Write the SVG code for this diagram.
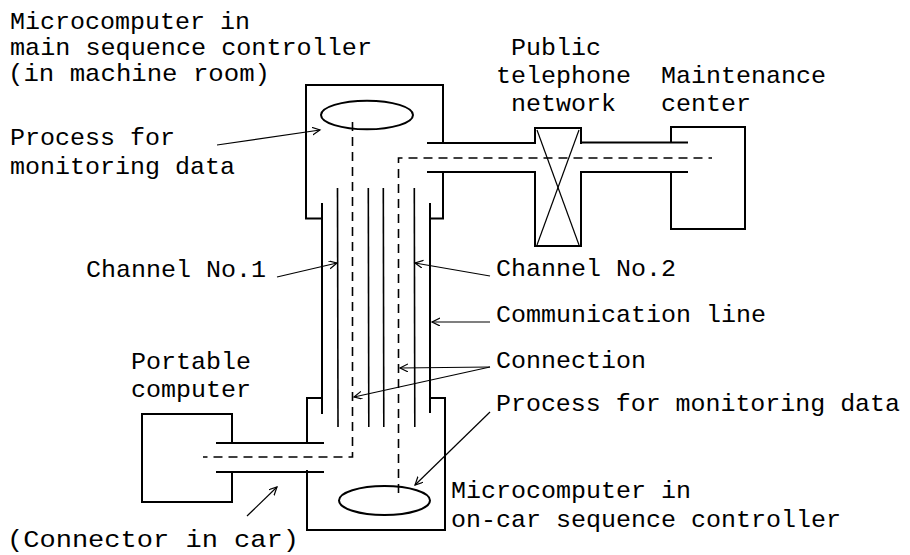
<svg xmlns="http://www.w3.org/2000/svg" width="910" height="555" viewBox="0 0 910 555">
<defs>
<marker id="ah" markerUnits="userSpaceOnUse" markerWidth="12" markerHeight="12" refX="8" refY="4" orient="auto">
<path d="M0,0 L8,4 L0,8" fill="none" stroke="#000" stroke-width="1.2"/>
</marker>
<style>
.b{fill:none;stroke:#000;stroke-width:2;stroke-linecap:square}
.c{fill:none;stroke:#000;stroke-width:1.6}
.d{fill:none;stroke:#000;stroke-width:1.6;stroke-dasharray:9 6}
.a{fill:none;stroke:#000;stroke-width:1.2;marker-end:url(#ah)}
.x{fill:none;stroke:#000;stroke-width:1.2}
text{font-family:"Liberation Mono","Courier New",monospace;font-size:24px;fill:#000}
</style>
</defs>
<rect width="910" height="555" fill="#fff"/>

<g id="main-controller">
<path class="b" d="M322,218.5 H306 V85 H443 V143 M443,173 V218.5 H430"/>
<ellipse class="b" cx="367" cy="115" rx="46" ry="14.3"/>
</g>

<g id="onboard-controller">
<path class="b" d="M322,398 H307 V442 M307,471 V530 H445 V398 H430"/>
<ellipse class="b" cx="384.5" cy="500.5" rx="45.5" ry="14.5"/>
</g>

<g id="shaft">
<line class="b" x1="322" y1="204" x2="322" y2="413"/>
<line class="b" x1="430" y1="204" x2="430" y2="412"/>
<line class="c" x1="337.5" y1="188" x2="338" y2="427"/>
<line class="c" x1="368.3" y1="188" x2="368.8" y2="427"/>
<line class="c" x1="383.3" y1="188" x2="383.8" y2="427"/>
<line class="c" x1="414.3" y1="188" x2="414.8" y2="427"/>
</g>

<g id="telephone-network">
<path class="b" d="M535,143 V128 H581 V143 M535,172 V246 H581 V172"/>
<line class="x" x1="537" y1="130" x2="579" y2="245"/>
<line class="x" x1="579" y1="130" x2="537" y2="245"/>
</g>

<g id="maintenance-center">
<path class="b" d="M671,142 V127 H745 V229 H671 V172"/>
</g>

<g id="portable-computer">
<path class="b" d="M232,443 V414 H142 V502 H232 V472"/>
</g>

<g id="connectors">
<line class="b" x1="428" y1="143" x2="535" y2="143"/>
<line class="b" x1="428" y1="172" x2="535" y2="172"/>
<line class="b" x1="581" y1="142.5" x2="687" y2="142.5"/>
<line class="b" x1="581" y1="172" x2="687" y2="172"/>
<line class="b" x1="217" y1="443" x2="323" y2="443"/>
<line class="b" x1="217" y1="472" x2="323" y2="472"/>
<path class="d" d="M352.5,122 V457 H203"/>
<path class="d" d="M398.5,493 V158 H712"/>
<line class="a" x1="217" y1="145" x2="320" y2="130"/>
<line class="a" x1="277" y1="277" x2="337" y2="263"/>
<line class="a" x1="490" y1="276" x2="415" y2="263"/>
<line class="a" x1="490" y1="322" x2="432" y2="322"/>
<line class="a" x1="490" y1="367" x2="400" y2="368"/>
<line class="a" x1="490" y1="367" x2="354" y2="397"/>
<line class="a" x1="490" y1="412" x2="415" y2="485"/>
<line class="a" x1="247" y1="516" x2="277" y2="487"/>
</g>

<g id="labels">
<text x="10" y="29" textLength="240" lengthAdjust="spacingAndGlyphs">Microcomputer in</text>
<text x="10" y="55" textLength="362" lengthAdjust="spacingAndGlyphs">main sequence controller</text>
<text x="8" y="81" textLength="262" lengthAdjust="spacingAndGlyphs">(in machine room)</text>
<text x="10" y="145" textLength="165" lengthAdjust="spacingAndGlyphs">Process for</text>
<text x="10" y="174" textLength="225" lengthAdjust="spacingAndGlyphs">monitoring data</text>
<text x="511" y="55" textLength="90" lengthAdjust="spacingAndGlyphs">Public</text>
<text x="496" y="83" textLength="135" lengthAdjust="spacingAndGlyphs">telephone</text>
<text x="511" y="111" textLength="105" lengthAdjust="spacingAndGlyphs">network</text>
<text x="661" y="83" textLength="165" lengthAdjust="spacingAndGlyphs">Maintenance</text>
<text x="661" y="111" textLength="90" lengthAdjust="spacingAndGlyphs">center</text>
<text x="86" y="277" textLength="180" lengthAdjust="spacingAndGlyphs">Channel No.1</text>
<text x="496" y="276" textLength="180" lengthAdjust="spacingAndGlyphs">Channel No.2</text>
<text x="496" y="322" textLength="270" lengthAdjust="spacingAndGlyphs">Communication line</text>
<text x="496" y="368" textLength="150" lengthAdjust="spacingAndGlyphs">Connection</text>
<text x="496" y="411" textLength="404" lengthAdjust="spacingAndGlyphs">Process for monitoring data</text>
<text x="131" y="369" textLength="120" lengthAdjust="spacingAndGlyphs">Portable</text>
<text x="131" y="397" textLength="120" lengthAdjust="spacingAndGlyphs">computer</text>
<text x="451" y="498" textLength="240" lengthAdjust="spacingAndGlyphs">Microcomputer in</text>
<text x="451" y="527" textLength="390" lengthAdjust="spacingAndGlyphs">on-car sequence controller</text>
<text x="7" y="547" textLength="292" lengthAdjust="spacingAndGlyphs">(Connector in car)</text>
</g>
</svg>
